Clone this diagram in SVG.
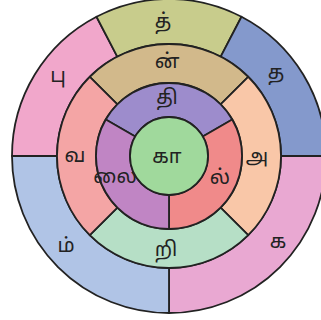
<svg xmlns="http://www.w3.org/2000/svg" width="321" height="320" viewBox="0 0 321 320">
<style>
.s{stroke:#222;stroke-width:1.8;stroke-linejoin:round}
text{font-family:"Noto Sans Tamil","Noto Sans","Lohit Tamil",sans-serif;font-size:20px;fill:#222;text-anchor:middle}
</style>
<rect width="321" height="320" fill="#fff"/>
<g id="outer-pu"><path class="s" fill="#f1a7cb" d="M12 156A157 157 0 0 1 96.51 16.74L117.29 56.66A112 112 0 0 0 57 156Z"/><text x="58" y="82">பு</text></g>
<g id="outer-th"><path class="s" fill="#c8cc8c" d="M96.51 16.74A157 157 0 0 1 241.49 16.74L220.71 56.66A112 112 0 0 0 117.29 56.66Z"/><text x="163" y="28">த்</text></g>
<g id="outer-tha"><path class="s" fill="#8499cc" d="M241.49 16.74A157 157 0 0 1 326 156L281 156A112 112 0 0 0 220.71 56.66Z"/><text x="276" y="79">த</text></g>
<g id="outer-ka"><path class="s" fill="#e9a8d2" d="M326 156A157 157 0 0 1 169 313L169 268A112 112 0 0 0 281 156Z"/><text x="278" y="248">க</text></g>
<g id="outer-m"><path class="s" fill="#b0c4e6" d="M169 313A157 157 0 0 1 12 156L57 156A112 112 0 0 0 169 268Z"/><text x="66" y="252">ம்</text></g>
<g id="mid-n"><path class="s" fill="#d2b98b" d="M89.8 76.8A112 112 0 0 1 248.2 76.8L220.62 104.38A73 73 0 0 0 117.38 104.38Z"/><text x="167" y="68">ன்</text></g>
<g id="mid-a"><path class="s" fill="#f9c7a8" d="M248.2 76.8A112 112 0 0 1 248.2 235.2L220.62 207.62A73 73 0 0 0 220.62 104.38Z"/><text x="257" y="163">அ</text></g>
<g id="mid-ri"><path class="s" fill="#b6dfc6" d="M248.2 235.2A112 112 0 0 1 89.8 235.2L117.38 207.62A73 73 0 0 0 220.62 207.62Z"/><text x="166" y="256">றி</text></g>
<g id="mid-va"><path class="s" fill="#f4a5a5" d="M89.8 235.2A112 112 0 0 1 89.8 76.8L117.38 104.38A73 73 0 0 0 117.38 207.62Z"/><text x="75" y="162">வ</text></g>
<g id="in-thi"><path class="s" fill="#9d8ccc" d="M105.78 119.5A73 73 0 0 1 232.22 119.5L202.77 136.5A39 39 0 0 0 135.23 136.5Z"/><text x="167" y="104">தி</text></g>
<g id="in-l"><path class="s" fill="#f08a8a" d="M232.22 119.5A73 73 0 0 1 169 229L169 195A39 39 0 0 0 202.77 136.5Z"/><text x="220" y="184">ல்</text></g>
<g id="in-lai"><path class="s" fill="#c085c4" d="M169 229A73 73 0 0 1 105.78 119.5L135.23 136.5A39 39 0 0 0 169 195Z"/><text x="115" y="183">லை</text></g>
<g id="center-kaa"><circle class="s" fill="#a0d99c" cx="169" cy="156" r="39"/><text x="167" y="163">கா</text></g>
<g id="connectors"/>
</svg>
